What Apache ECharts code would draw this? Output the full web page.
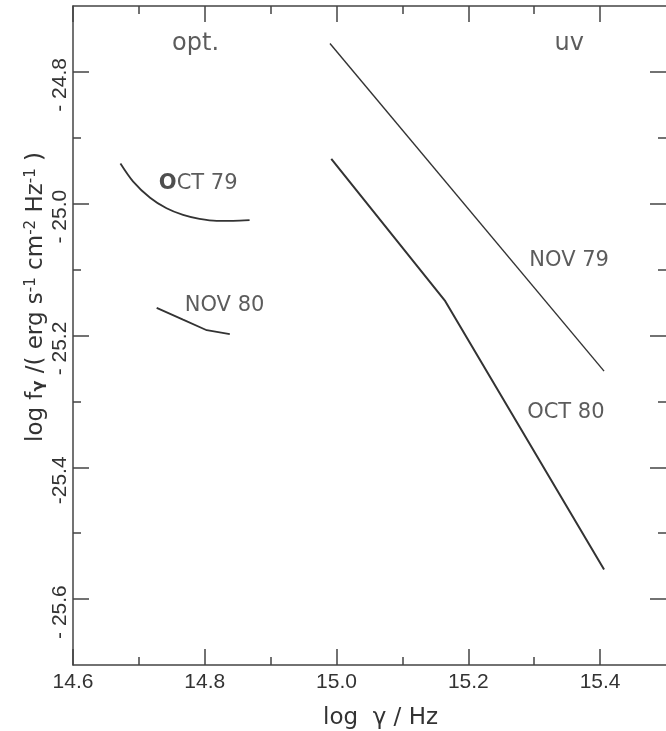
<!DOCTYPE html>
<html>
<head>
<meta charset="utf-8">
<script src="https://cdn.jsdelivr.net/npm/echarts@6/dist/echarts.min.js"></script>
<style>
  html, body { margin: 0; padding: 0; background: #fff; }
  #chart { width: 666px; height: 731px; }
</style>
</head>
<body>
<div id="chart"></div>
<script>
// Spectral flux density against frequency (both logarithmic):
// optical and UV spectra observed at two epochs.
const xMajor = [14.6, 14.8, 15.0, 15.2, 15.4];
const xMinor = [14.7, 14.9, 15.1, 15.3];
const xTickLabels = ['14.6', '14.8', '15.0', '15.2', '15.4'];
const yMajor = [-25.6, -25.4, -25.2, -25.0, -24.8];
const yMinor = [-25.5, -25.3, -25.1, -24.9];
const yTickLabels = ['- 25.6', '-25.4', '- 25.2', '- 25.0', '- 24.8'];

// optical spectra
const oct79 = [[14.672, -24.939], [14.691, -24.966], [14.717, -24.991], [14.742, -25.007],
               [14.767, -25.017], [14.792, -25.023], [14.818, -25.026], [14.843, -25.026],
               [14.868, -25.025]];
const nov80 = [[14.727, -25.158], [14.767, -25.176], [14.803, -25.192], [14.838, -25.198]];
// UV spectra
const nov79 = [[14.990, -24.757], [15.406, -25.254]];
const oct80 = [[14.992, -24.932], [15.165, -25.148], [15.406, -25.555]];

// annotation texts and where they sit (data coordinates)
const noteTexts = ['opt.', 'uv', '{b|O}CT 79', 'NOV 80', 'NOV 79', 'OCT 80'];
const notePos = [[14.786, -24.757], [15.353, -24.757], [14.790, -24.970],
                 [14.830, -25.155], [15.353, -25.086], [15.348, -25.317]];
const noteSizes = [24, 24, 21, 21, 21, 21];

const INK = '#333';
const AXIS = '#444';
const GRID = { left: 73, top: 6, width: 594, height: 659 };

function pickLabel(values, labels) {
  return function (v) {
    for (let i = 0; i < values.length; i++) {
      if (Math.abs(values[i] - v) < 1e-6) return labels[i];
    }
    return '';
  };
}

const lineAxis = { show: true, lineStyle: { color: AXIS, width: 1.5 } };
const tickStyle = { color: AXIS, width: 1.5 };

function xAxisDef(grid, pos, ticks, len, withLabels) {
  return {
    type: 'value', gridIndex: grid, position: pos, min: 14.6, max: 15.5,
    axisLine: grid === 0 ? lineAxis : { show: false },
    axisTick: { show: true, inside: true, length: len, customValues: ticks, lineStyle: tickStyle },
    axisLabel: withLabels ? {
      show: true, customValues: xMajor, formatter: pickLabel(xMajor, xTickLabels),
      margin: 7, fontSize: 21, fontFamily: 'Liberation Sans', color: INK
    } : { show: false },
    splitLine: { show: false }
  };
}

function yAxisDef(grid, pos, ticks, len, withLabels) {
  return {
    type: 'value', gridIndex: grid, position: pos, min: -25.7, max: -24.7,
    // the right-hand frame edge falls at the border of the canvas
    axisLine: (grid === 0 && pos === 'left') ? lineAxis : { show: false },
    axisTick: { show: true, inside: true, length: len, customValues: ticks, lineStyle: tickStyle },
    axisLabel: withLabels ? {
      show: true, customValues: yMajor, formatter: pickLabel(yMajor, yTickLabels),
      rotate: 90, margin: 2, padding: [0, 26, 0, 0],
      fontSize: 21, fontFamily: 'Liberation Sans', color: INK
    } : { show: false },
    splitLine: { show: false }
  };
}

function spectrum(name, data, width, smooth) {
  return {
    name: name, type: 'line', xAxisIndex: 0, yAxisIndex: 0,
    data: data, showSymbol: false, smooth: smooth || false,
    lineStyle: { color: INK, width: width }, silent: true, animation: false
  };
}

const chart = echarts.init(document.getElementById('chart'), null, { renderer: 'canvas' });

chart.setOption({
  backgroundColor: '#fff',
  animation: false,
  grid: [Object.assign({}, GRID), Object.assign({}, GRID)],
  xAxis: [
    xAxisDef(0, 'bottom', xMajor, 16, true),
    xAxisDef(0, 'top', xMajor, 16, false),
    xAxisDef(1, 'bottom', xMinor, 8, false),
    xAxisDef(1, 'top', xMinor, 8, false)
  ],
  yAxis: [
    yAxisDef(0, 'left', yMajor, 16, true),
    yAxisDef(0, 'right', yMajor, 16, false),
    yAxisDef(1, 'left', yMinor, 8, false),
    yAxisDef(1, 'right', yMinor, 8, false)
  ],
  series: [
    spectrum('OCT 79', oct79, 1.8, 0.3),
    spectrum('NOV 80', nov80, 1.8),
    spectrum('NOV 79', nov79, 1.4),
    spectrum('OCT 80', oct80, 2.0),
    {
      name: 'notes', type: 'scatter', xAxisIndex: 0, yAxisIndex: 0,
      symbolSize: 0, silent: true,
      data: notePos.map(function (p, i) {
        return {
          value: p,
          label: {
            show: true, position: 'inside', formatter: noteTexts[i],
            fontSize: noteSizes[i], fontFamily: 'DejaVu Sans', color: INK,
            rich: { b: { fontSize: noteSizes[i], fontFamily: 'DejaVu Sans', fontWeight: 'bold', color: '#222' } }
          }
        };
      })
    }
  ],
  graphic: [
    {
      type: 'text', left: 323, top: 707,
      style: { text: 'log  γ / Hz', font: '23px "DejaVu Sans"', fill: INK }
    },
    {
      type: 'text', x: 35, y: 297, rotation: Math.PI / 2,
      style: {
        text: '{t|log f}{sub|γ}{t| /( erg s}{sup|-1}{t| cm}{sup|-2}{t| Hz}{sup|-1}{t| )}',
        align: 'center', verticalAlign: 'middle', fill: INK,
        rich: {
          t: { fontSize: 23, fontFamily: 'DejaVu Sans', lineHeight: 23, padding: [7, 0, 4, 0], fill: INK, color: INK },
          sup: { fontSize: 15, fontFamily: 'DejaVu Sans', lineHeight: 15, verticalAlign: 'top', fill: INK, color: INK },
          sub: { fontSize: 16, fontFamily: 'DejaVu Sans', fontWeight: 'bold', lineHeight: 16, verticalAlign: 'bottom', fill: INK, color: INK }
        }
      }
    }
  ]
});
</script>
</body>
</html>
